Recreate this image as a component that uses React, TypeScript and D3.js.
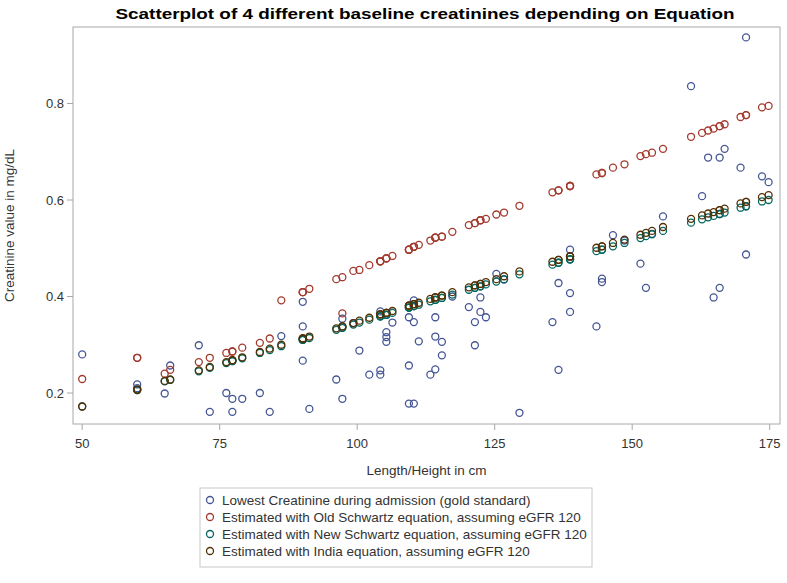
import React from "react";
import * as d3 from "d3";

const title = "Scatterplot of 4 different baseline creatinines depending on Equation";
const xLabel = "Length/Height in cm";
const yLabel = "Creatinine value in mg/dL";
const xTicks = [50, 75, 100, 125, 150, 175];
const yTicks = [0.2, 0.4, 0.6, 0.8];

const seriesNames = [
  "Lowest Creatinine during admission (gold standard)",
  "Estimated with Old Schwartz equation, assuming eGFR 120",
  "Estimated with New Schwartz equation, assuming eGFR 120",
  "Estimated with India equation, assuming eGFR 120",
];
const seriesColors = ["#445694", "#A23A2E", "#01665E", "#543005"];

const heights = [
  50, 60, 60, 65, 66, 71.2, 73.2, 76.2, 77.3, 77.3, 79.1, 82.3, 84.1, 86.2, 90.1, 90.1, 90.1, 91.3,
  96.2, 97.3, 97.3, 99.3, 100.4, 102.2, 104.2, 104.2, 104.2, 105.3, 105.3, 105.3, 106.4, 109.4, 109.4,
  109.4, 110.3, 110.3, 110.3, 111.2, 113.3, 114.2, 114.2, 114.2, 115.4, 115.4, 117.3, 120.3, 121.4,
  121.4, 122.4, 122.4, 123.4, 125.3, 126.7, 129.5, 135.5, 136.6, 136.6, 138.7, 138.7, 138.7, 143.5,
  144.5, 144.5, 146.5, 148.6, 151.5, 152.5, 153.6, 155.6, 160.7, 162.7, 163.8, 164.8, 165.9, 165.9,
  166.8, 169.7, 170.7, 170.7, 173.6, 174.8,
];

const lowestCreatinine = [
  0.28, 0.218, 0.21, 0.199, 0.257, 0.299, 0.161, 0.2, 0.188, 0.161, 0.188, 0.2, 0.161, 0.318, 0.389,
  0.338, 0.267, 0.167, 0.228, 0.188, 0.354, 0.345, 0.288, 0.238, 0.369, 0.247, 0.238, 0.326, 0.316,
  0.306, 0.346, 0.357, 0.257, 0.178, 0.392, 0.347, 0.178, 0.307, 0.238, 0.357, 0.317, 0.249, 0.306,
  0.278, 0.4, 0.378, 0.347, 0.299, 0.398, 0.368, 0.357, 0.447, 0.435, 0.159, 0.347, 0.428, 0.248,
  0.497, 0.407, 0.368, 0.338, 0.437, 0.43, 0.527, 0.516, 0.468, 0.418, 0.53, 0.566, 0.836, 0.608,
  0.688, 0.398, 0.688, 0.418, 0.706, 0.667, 0.937, 0.487, 0.649, 0.637,
];

const oldSchwartz = [
  0.229, 0.273, 0.273, 0.24, 0.248, 0.264, 0.273, 0.283, 0.286, 0.286, 0.294, 0.304, 0.313, 0.392,
  0.409, 0.409, 0.409, 0.416, 0.436, 0.44, 0.365, 0.453, 0.455, 0.465, 0.473, 0.473, 0.473, 0.479,
  0.479, 0.479, 0.484, 0.497, 0.497, 0.497, 0.503, 0.503, 0.503, 0.507, 0.516, 0.522, 0.522, 0.522,
  0.524, 0.524, 0.534, 0.548, 0.552, 0.552, 0.558, 0.558, 0.561, 0.57, 0.574, 0.588, 0.616, 0.62,
  0.62, 0.629, 0.629, 0.629, 0.653, 0.656, 0.656, 0.667, 0.674, 0.691, 0.695, 0.698, 0.706, 0.731,
  0.739, 0.744, 0.748, 0.753, 0.753, 0.757, 0.772, 0.776, 0.776, 0.792, 0.795,
];

const newSchwartz = [
  0.172, 0.206, 0.206, 0.224, 0.227, 0.245, 0.252, 0.262, 0.266, 0.266, 0.272, 0.283, 0.289, 0.297,
  0.31, 0.31, 0.31, 0.314, 0.331, 0.335, 0.335, 0.342, 0.346, 0.352, 0.359, 0.359, 0.359, 0.362,
  0.362, 0.362, 0.366, 0.377, 0.377, 0.377, 0.38, 0.38, 0.38, 0.383, 0.39, 0.393, 0.393, 0.393, 0.397,
  0.397, 0.404, 0.414, 0.418, 0.418, 0.421, 0.421, 0.425, 0.431, 0.436, 0.446, 0.466, 0.47, 0.47,
  0.477, 0.477, 0.477, 0.494, 0.497, 0.497, 0.504, 0.511, 0.521, 0.525, 0.529, 0.536, 0.553, 0.56,
  0.564, 0.567, 0.571, 0.571, 0.574, 0.584, 0.587, 0.587, 0.597, 0.6,
];

const indiaEquation = [
  0.172, 0.207, 0.207, 0.225, 0.228, 0.247, 0.254, 0.264, 0.268, 0.268, 0.274, 0.285, 0.292, 0.3,
  0.313, 0.313, 0.313, 0.317, 0.334, 0.338, 0.338, 0.345, 0.35, 0.356, 0.363, 0.363, 0.363, 0.366,
  0.366, 0.366, 0.37, 0.381, 0.381, 0.381, 0.384, 0.384, 0.384, 0.387, 0.395, 0.398, 0.398, 0.398,
  0.402, 0.402, 0.409, 0.419, 0.423, 0.423, 0.426, 0.426, 0.43, 0.436, 0.442, 0.452, 0.472, 0.476,
  0.476, 0.483, 0.483, 0.483, 0.501, 0.504, 0.504, 0.511, 0.518, 0.528, 0.532, 0.536, 0.544, 0.561,
  0.568, 0.572, 0.575, 0.579, 0.579, 0.582, 0.593, 0.596, 0.596, 0.606, 0.61,
];

const seriesValues = [lowestCreatinine, oldSchwartz, newSchwartz, indiaEquation];

const W = 787;
const H = 583;
const frame = { left: 73, top: 27, right: 780, bottom: 424 };

export default function App() {
  const x = d3.scaleLinear().domain([50, 175]).range([82.2, 769.7]);
  const y = d3.scaleLinear().domain([0.2, 0.8]).range([393, 103.5]);
  const font = "'Liberation Sans', Arial, sans-serif";
  const axisColor = "#a8a8a8";
  const textColor = "#333";
  const cx = (frame.left + frame.right) / 2;
  const cy = (frame.top + frame.bottom) / 2;
  const legendX = 200;
  const legendY = 488;
  const rowH = 17;

  return (
    <svg
      width={W}
      height={H}
      style={{ position: "absolute", left: 0, top: 0, background: "#fff" }}
      fontFamily={font}
    >
      <rect x={0} y={0} width={W} height={H} fill="#fff" />
      <text x={425} y={19} textAnchor="middle" fontSize={15} fontWeight="bold" fill="#000"
        textLength={619} lengthAdjust="spacingAndGlyphs">
        {title}
      </text>

      <rect x={frame.left} y={frame.top} width={frame.right - frame.left}
        height={frame.bottom - frame.top} fill="none" stroke={axisColor} strokeWidth={1} />

      {xTicks.map((t) => (
        <g key={"xt" + t}>
          <line x1={x(t)} x2={x(t)} y1={frame.bottom} y2={frame.bottom + 6} stroke={axisColor} />
          <text x={x(t)} y={frame.bottom + 24} textAnchor="middle" fontSize={13} fill={textColor}>
            {t}
          </text>
        </g>
      ))}
      <text x={cx} y={frame.bottom + 51} textAnchor="middle" fontSize={13.5} fill={textColor}>
        {xLabel}
      </text>

      {yTicks.map((t) => (
        <g key={"yt" + t}>
          <line x1={frame.left - 6} x2={frame.left} y1={y(t)} y2={y(t)} stroke={axisColor} />
          <text x={frame.left - 9} y={y(t) + 4.5} textAnchor="end" fontSize={13} fill={textColor}>
            {t.toFixed(1)}
          </text>
        </g>
      ))}
      <text transform={`translate(14,${cy}) rotate(-90)`} textAnchor="middle" fontSize={13.5} fill={textColor}>
        {yLabel}
      </text>

      {seriesValues.map((vals, si) => (
        <g key={"s" + si}>
          {vals.map((v, i) => (
            <circle key={i} cx={x(heights[i])} cy={y(v)} r={3.5} fill="none"
              stroke={seriesColors[si]} strokeWidth={1.3} />
          ))}
        </g>
      ))}

      <rect x={legendX} y={legendY} width={392} height={rowH * 4 + 11} fill="none" stroke="#c8c8c8" />
      {seriesNames.map((n, i) => (
        <g key={"lg" + i}>
          <circle cx={legendX + 10} cy={legendY + 12 + i * rowH} r={3.5} fill="none"
            stroke={seriesColors[i]} strokeWidth={1.3} />
          <text x={legendX + 22} y={legendY + 16.8 + i * rowH} fontSize={13.5} fill={textColor}>
            {n}
          </text>
        </g>
      ))}
    </svg>
  );
}
